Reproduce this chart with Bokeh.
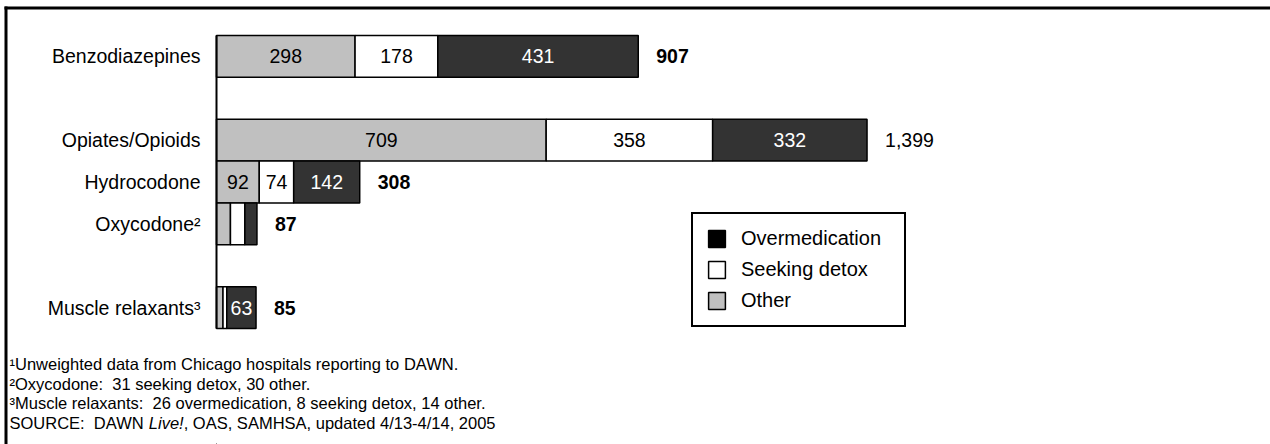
from bokeh.plotting import figure
from bokeh.models import ColumnDataSource, Range1d, Legend, LegendItem, Label, BoxAnnotation
from bokeh.core.properties import value
from bokeh.embed import file_html
from bokeh.resources import INLINE

# ---------------- data ----------------
categories = ["Benzodiazepines", "Opiates/Opioids", "Hydrocodone", "Oxycodone\u00b2", "Muscle relaxants\u00b3"]
other = [298, 709, 92, 30, 14]
seeking_detox = [178, 358, 74, 31, 8]
overmedication = [431, 332, 142, 26, 63]
total_labels = ["907", "1,399", "308", "87", "85"]
# slot order from top to bottom (None = empty gap row)
slots = ["Benzodiazepines", None, "Opiates/Opioids", "Hydrocodone", "Oxycodone\u00b2", None, "Muscle relaxants\u00b3"]
legend_names = ["Overmedication", "Seeking detox", "Other"]
footnotes = [
    "\u00b9Unweighted data from Chicago hospitals reporting to DAWN.",
    "\u00b2Oxycodone:\u00a0 31 seeking detox, 30 other.",
    "\u00b3Muscle relaxants:\u00a0 26 overmedication, 8 seeking detox, 14 other.",
]
source_parts = ["SOURCE:\u00a0 DAWN", "Live!", ", OAS, SAMHSA, updated 4/13-4/14, 2005"]

# ---------------- styles / layout ----------------
FONT = "Liberation Sans"
C_OTHER, C_SEEK, C_OVER = "#c0c0c0", "#ffffff", "#333333"
legend_colors = ["#000000", "#ffffff", "#c0c0c0"]
total_styles = ["bold", "normal", "bold", "bold", "bold"]

W, H = 1270, 444
AXIS_PX = 216          # x pixel of the bar baseline
ROWS_TOP, ROWS_BOTTOM = 35, 328
PX_PER_UNIT = 0.465
n_slots = len(slots)
row_h = (ROWS_BOTTOM - ROWS_TOP) / n_slots
# y value of a slot: top slot = n_slots-1, bottom slot = 0; pixel Y = y0px - row_h * v
y0px = ROWS_TOP + row_h * (n_slots - 0.5)
y_top = y0px / row_h
y_bot = (y0px - H) / row_h

p = figure(width=W, height=H, x_range=Range1d(-AXIS_PX / PX_PER_UNIT, (W - AXIS_PX) / PX_PER_UNIT),
           y_range=Range1d(y_bot, y_top), x_axis_type=None, y_axis_type=None,
           output_backend="svg", toolbar_location=None, title=None, min_border=0)
p.outline_line_color = None
p.background_fill_color = "white"
p.border_fill_color = "white"
p.xgrid.visible = False
p.ygrid.visible = False

slot_v = {name: n_slots - 1 - i for i, name in enumerate(slots) if name is not None}
ys = [slot_v[c] for c in categories]

# ---------------- bars ----------------
seg1_l = [0] * len(categories)
seg1_r = other
seg2_l = other
seg2_r = [a + b for a, b in zip(other, seeking_detox)]
seg3_l = seg2_r
seg3_r = [a + b for a, b in zip(seg2_r, overmedication)]

for l, r, c in [(seg1_l, seg1_r, C_OTHER), (seg2_l, seg2_r, C_SEEK), (seg3_l, seg3_r, C_OVER)]:
    src = ColumnDataSource(dict(y=ys, left=l, right=r))
    p.hbar(y="y", left="left", right="right", height=1.0, source=src,
           fill_color=c, line_color="black", line_width=1.5)

# vertical axis line
p.segment(x0=[0], y0=[-0.5], x1=[0], y1=[n_slots - 0.5], line_color="black", line_width=2)

# category labels
p.text(x=[0] * len(categories), y=ys, text=categories, x_offset=-16,
       text_font=value(FONT), text_font_size="19.5px", text_color="black",
       text_align="right", text_baseline="middle")

# segment value labels
lx, ly, lt, lc = [], [], [], []
for vals, l, r, tc in [(other, seg1_l, seg1_r, "black"), (seeking_detox, seg2_l, seg2_r, "black"),
                        (overmedication, seg3_l, seg3_r, "white")]:
    for yv, v, a, b in zip(ys, vals, l, r):
        if v >= 50:
            lx.append((a + b) / 2)
            ly.append(yv)
            lt.append(str(v))
            lc.append(tc)
p.text(x="x", y="y", text="t", text_color="c",
       source=ColumnDataSource(dict(x=lx, y=ly, t=lt, c=lc)),
       text_font=value(FONT), text_font_size="19.5px", text_align="center", text_baseline="middle")

# totals
p.text(x="x", y="y", text="t", text_font_style="s",
       source=ColumnDataSource(dict(x=seg3_r, y=ys, t=total_labels, s=total_styles)),
       x_offset=18, text_font=value(FONT), text_font_size="19.5px", text_color="black",
       text_align="left", text_baseline="middle")

# ---------------- legend ----------------
items = []
for name, col in zip(legend_names, legend_colors):
    # swatch-only renderer, placed outside the visible range
    r = p.hbar(y=[y_bot - 5], left=[0], right=[1], height=1.0, fill_color=col,
               line_color="black", line_width=1.5)
    items.append(LegendItem(label=name, renderers=[r]))
legend = Legend(items=items, location=(691, H - 327), border_line_color="black",
                border_line_width=2, border_line_alpha=1.0,
                background_fill_color="white", background_fill_alpha=1.0,
                label_text_font=FONT, label_text_font_size="20px", label_text_color="black",
                glyph_width=21, glyph_height=21, label_standoff=14, padding=13, spacing=8,
                label_width=150, margin=0)
p.add_layout(legend)

# ---------------- footnotes ----------------
FOOT_SIZE = 16.5
FOOT_X = 9
baselines = [363.5, 383, 402.5, 422]
for t, b in zip(footnotes, baselines):
    p.add_layout(Label(x=FOOT_X, y=H - b, x_units="screen", y_units="screen", text=t,
                       text_font=FONT, text_font_size=f"{FOOT_SIZE}px", text_color="black",
                       text_baseline="alphabetic", text_align="left"))
src_x = [FOOT_X, FOOT_X + 8.445 * FOOT_SIZE, FOOT_X + 10.557 * FOOT_SIZE]
for t, x, st in zip(source_parts, src_x, ["normal", "italic", "normal"]):
    p.add_layout(Label(x=x, y=H - baselines[3], x_units="screen", y_units="screen", text=t,
                       text_font=FONT, text_font_size=f"{FOOT_SIZE}px", text_color="black",
                       text_font_style=st, text_baseline="alphabetic", text_align="left"))

# ---------------- outer frame (top and left edges) ----------------
p.add_layout(BoxAnnotation(left=4, right=W, top=H - 6, bottom=H - 9,
                           left_units="screen", right_units="screen", top_units="screen",
                           bottom_units="screen", fill_color="black", fill_alpha=1,
                           line_color=None))
p.add_layout(BoxAnnotation(left=4, right=7, top=H - 6, bottom=0,
                           left_units="screen", right_units="screen", top_units="screen",
                           bottom_units="screen", fill_color="black", fill_alpha=1,
                           line_color=None))

open("out.html", "w").write(file_html(p, INLINE))
